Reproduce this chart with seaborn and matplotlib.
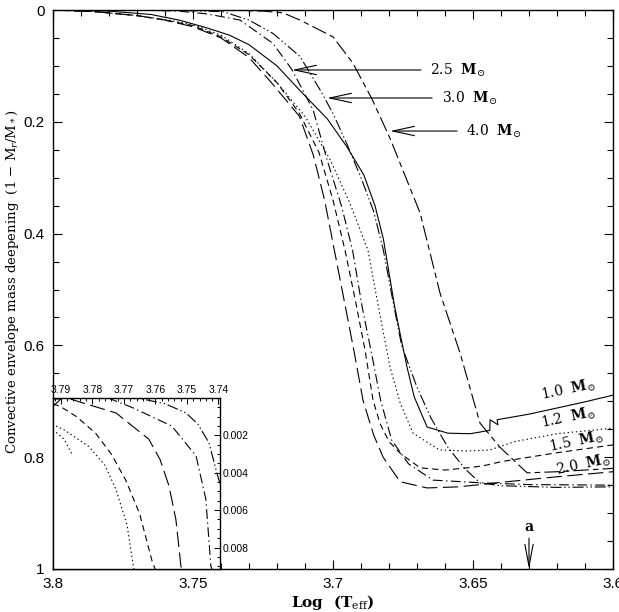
import matplotlib
matplotlib.use("Agg")
import numpy as np
import pandas as pd
import matplotlib.pyplot as plt
from matplotlib.ticker import MultipleLocator, FixedLocator, FuncFormatter
import seaborn as sns

# ---------------- data ----------------
tracks = ["1.0", "1.2", "1.5", "2.0", "2.5", "3.0", "4.0"]

x10 = [3.800, 3.780, 3.765, 3.755, 3.745, 3.737, 3.730, 3.720, 3.712, 3.702, 3.695, 3.689, 3.685,
       3.682, 3.680, 3.678, 3.676, 3.6736, 3.671, 3.6664, 3.659, 3.651, 3.644, 3.6439, 3.6411, 3.6414,
       3.630, 3.620, 3.610, 3.600]
y10 = [0.000, 0.002, 0.008, 0.018, 0.032, 0.045, 0.062, 0.100, 0.143, 0.195, 0.245, 0.295, 0.350,
       0.410, 0.470, 0.530, 0.580, 0.638, 0.692, 0.746, 0.757, 0.758, 0.752, 0.733, 0.742, 0.733,
       0.723, 0.712, 0.701, 0.689]

x12 = [3.800, 3.785, 3.770, 3.760, 3.750, 3.740, 3.730, 3.720, 3.710, 3.701, 3.694, 3.6875, 3.684,
       3.6796, 3.676, 3.6714, 3.662, 3.652, 3.644, 3.635, 3.620, 3.600]
y12 = [0.000, 0.003, 0.010, 0.017, 0.026, 0.045, 0.078, 0.130, 0.190, 0.268, 0.345, 0.430, 0.525,
       0.640, 0.703, 0.757, 0.787, 0.789, 0.787, 0.772, 0.758, 0.748]

x15 = [3.800, 3.785, 3.770, 3.760, 3.750, 3.740, 3.730, 3.720, 3.712, 3.705, 3.700, 3.6957, 3.692,
       3.6885, 3.6857, 3.6832, 3.680, 3.676, 3.6689, 3.660, 3.650, 3.645, 3.640, 3.620, 3.600]
y15 = [0.000, 0.003, 0.010, 0.018, 0.028, 0.048, 0.080, 0.130, 0.185, 0.255, 0.340, 0.430, 0.520,
       0.610, 0.698, 0.740, 0.772, 0.793, 0.819, 0.823, 0.818, 0.814, 0.808, 0.792, 0.778]

x20 = [3.800, 3.785, 3.770, 3.760, 3.750, 3.740, 3.730, 3.722, 3.712, 3.707, 3.703, 3.6995, 3.696,
       3.6925, 3.6893, 3.6855, 3.6821, 3.676, 3.6664, 3.655, 3.640, 3.620, 3.600]
y20 = [0.000, 0.003, 0.010, 0.018, 0.030, 0.050, 0.085, 0.130, 0.190, 0.260, 0.340, 0.430, 0.520,
       0.610, 0.698, 0.760, 0.800, 0.844, 0.855, 0.853, 0.845, 0.835, 0.826]

x25 = [3.800, 3.770, 3.755, 3.745, 3.7332, 3.7214, 3.7146, 3.7071, 3.702, 3.697, 3.693, 3.6896,
       3.686, 3.683, 3.679, 3.673, 3.6643, 3.6464, 3.630, 3.600]
y25 = [0.000, 0.000, 0.002, 0.007, 0.018, 0.060, 0.107, 0.179, 0.270, 0.350, 0.430, 0.531,
       0.620, 0.698, 0.770, 0.812, 0.841, 0.846, 0.849, 0.850]

x30 = [3.800, 3.760, 3.7393, 3.730, 3.7214, 3.7118, 3.7046, 3.700, 3.695, 3.690, 3.6855, 3.682,
       3.679, 3.6755, 3.670, 3.665, 3.659, 3.653, 3.6475, 3.640, 3.620, 3.600]
y30 = [0.000, 0.000, 0.003, 0.018, 0.042, 0.083, 0.143, 0.185, 0.240, 0.300, 0.360, 0.430,
       0.510, 0.600, 0.675, 0.730, 0.782, 0.820, 0.846, 0.851, 0.854, 0.853]

x40 = [3.800, 3.740, 3.725, 3.7179, 3.7118, 3.700, 3.6929, 3.6860, 3.6796, 3.6689, 3.6618, 3.6546,
       3.6475, 3.6404, 3.6307, 3.620, 3.600]
y40 = [0.000, 0.000, 0.002, 0.005, 0.018, 0.048, 0.095, 0.160, 0.230, 0.363, 0.506, 0.614,
       0.739, 0.782, 0.828, 0.826, 0.820]

# inset (zoom on the onset of deepening), y in units of 1e-3
ins_x10 = [3.7925, 3.7900, 3.7925]
ins_y10 = [0.05, 0.05, 0.45]
ins_x12 = [3.7925, 3.7916, 3.789, 3.7811, 3.776, 3.7725, 3.769, 3.7668]
ins_y12 = [1.35, 1.5, 1.7, 2.6, 3.6, 4.9, 6.8, 9.2]
ins_x12b = [3.7925, 3.789, 3.7865]
ins_y12b = [1.7, 2.2, 3.0]
ins_x15 = [3.7925, 3.7897, 3.785, 3.7789, 3.774, 3.7694, 3.765, 3.7611, 3.760]
ins_y15 = [0.3, 0.5, 1.0, 1.9, 3.0, 4.4, 6.2, 8.7, 9.2]
ins_x20 = [3.787, 3.7833, 3.7725, 3.7621, 3.7585, 3.7557, 3.7535, 3.7519, 3.7515]
ins_y20 = [0.05, 0.25, 0.8, 2.2, 3.3, 4.7, 6.5, 9.0, 9.2]
ins_x25 = [3.775, 3.7675, 3.7548, 3.7471, 3.744, 3.7424, 3.742]
ins_y25 = [0.0, 0.5, 1.5, 3.1, 5.4, 9.0, 9.2]
ins_x30 = [3.770, 3.7643, 3.757, 3.7503, 3.7465, 3.743, 3.7405, 3.7395]
ins_y30 = [0.0, 0.05, 0.3, 0.8, 1.4, 2.4, 4.0, 4.6]

x_ticks = [3.8, 3.75, 3.7, 3.65, 3.6]
y_ticks = [0, 0.2, 0.4, 0.6, 0.8, 1]
ins_x_ticks = [3.79, 3.78, 3.77, 3.76, 3.75, 3.74]
ins_y_ticks = [0.002, 0.004, 0.006, 0.008]

# ---------------- tables ----------------
main_sets = [("1.0", x10, y10), ("1.2", x12, y12), ("1.5", x15, y15), ("2.0", x20, y20),
             ("2.5", x25, y25), ("3.0", x30, y30), ("4.0", x40, y40)]
rows = []
for name, xs, ys in main_sets:
    for i, (a, b) in enumerate(zip(xs, ys)):
        rows.append({"track": name, "i": i, "logT": a, "dm": b})
df = pd.DataFrame(rows)

ins_sets = [("1.0", "1.0", ins_x10, ins_y10), ("1.2", "1.2", ins_x12, ins_y12),
            ("1.2b", "1.2", ins_x12b, ins_y12b), ("1.5", "1.5", ins_x15, ins_y15),
            ("2.0", "2.0", ins_x20, ins_y20), ("2.5", "2.5", ins_x25, ins_y25),
            ("3.0", "3.0", ins_x30, ins_y30)]
rows = []
for unit, name, xs, ys in ins_sets:
    for i, (a, b) in enumerate(zip(xs, ys)):
        rows.append({"unit": unit, "track": name, "i": i, "logT": a, "dm": b * 1e-3})
dfi = pd.DataFrame(rows)

# ---------------- style ----------------
sns.set_theme(style="ticks", rc={
    "axes.edgecolor": "black", "xtick.color": "black", "ytick.color": "black",
    "text.color": "black", "axes.labelcolor": "black", "axes.linewidth": 1.0,
})
plt.rcParams["font.family"] = ["Liberation Sans", "DejaVu Sans"]
plt.rcParams["mathtext.fontset"] = "dejavuserif"
plt.rcParams["lines.scale_dashes"] = False

dash_map = {"1.0": "", "1.2": (1.0, 2.0), "1.5": (4.5, 3.0), "2.0": (11.0, 4.0),
            "2.5": (7.0, 2.5, 1.0, 2.5), "3.0": (8.0, 2.0, 1.0, 2.0, 1.0, 2.0),
            "4.0": (11.0, 3.0, 4.0, 3.0)}

W, H = 619, 612
fig = plt.figure(figsize=(W / 100, H / 100), dpi=100)
ax = fig.add_axes([53 / W, (H - 569) / H, 560 / W, 559 / H])

sns.lineplot(data=df, x="logT", y="dm", style="track", units="track", dashes=dash_map,
             color="black", lw=0.8, sort=False, estimator=None, legend=False, ax=ax)

ax.set_xlim(3.8, 3.6)
ax.set_ylim(1, 0)
ax.xaxis.set_major_locator(FixedLocator(x_ticks))
ax.yaxis.set_major_locator(FixedLocator(y_ticks))
ax.xaxis.set_minor_locator(MultipleLocator(0.01))
ax.yaxis.set_minor_locator(MultipleLocator(0.05))
fmt = FuncFormatter(lambda v, p: f"{v:g}")
ax.xaxis.set_major_formatter(fmt)
ax.yaxis.set_major_formatter(fmt)
ax.tick_params(which="both", direction="in", top=True, right=True, width=0.8, labelsize=11)
ax.tick_params(which="major", length=6.5, pad=6)
ax.tick_params(which="minor", length=4.3)

serif = ["DejaVu Serif"]
ax.set_xlabel(r"Log  (T$_{\rm eff}$)", family=serif, fontsize=11, fontweight="bold", labelpad=1)
ax.set_ylabel(r"Convective envelope mass deepening  (1 $-$ M$_r$/M$_*$)",
              family=serif, fontsize=9.5)
ax.yaxis.set_label_coords(-0.058, 0.513)

# arrow labels for the high-mass tracks
arrow_kw = dict(arrowstyle="->,head_length=1.3,head_width=0.28", lw=0.8, color="black",
                shrinkA=0, shrinkB=0)
for lab, tip_x, tail_x, yy, tx in [("2.5", 3.7146, 3.6686, 0.1073, 3.6654),
                                   ("3.0", 3.7021, 3.6646, 0.1574, 3.6611),
                                   ("4.0", 3.6796, 3.6557, 0.2165, 3.6525)]:
    ax.annotate("", xy=(tip_x, yy), xytext=(tail_x, yy), arrowprops=arrow_kw)
    ax.text(tx, yy, lab + r"  $\mathbf{M}_{\odot}$", family=serif, fontsize=10,
            ha="left", va="center")

# rotated labels for the low-mass tracks
for lab, lx, ly in [("1.0", 3.6160, 0.680), ("1.2", 3.6160, 0.730),
                    ("1.5", 3.6130, 0.773), ("2.0", 3.6105, 0.814)]:
    ax.text(lx, ly, lab + r"  $\mathbf{M}_{\odot}$", family=serif, fontsize=10,
            ha="center", va="center", rotation=12, rotation_mode="anchor")

# marker "a"
ax.annotate("", xy=(3.63, 1.0), xytext=(3.63, 0.945),
            arrowprops=dict(arrowstyle="->,head_length=1.3,head_width=0.25", lw=0.8,
                            color="black", shrinkA=0, shrinkB=0))
ax.text(3.63, 0.925, "a", family=serif, fontsize=10, fontweight="bold", ha="center", va="center")

# ---------------- inset ----------------
axi = fig.add_axes([53 / W, (H - 569) / H, 167 / W, 171 / H])
axi.set_facecolor("white")
sns.lineplot(data=dfi, x="logT", y="dm", style="track", units="unit", dashes=dash_map,
             color="black", lw=0.8, sort=False, estimator=None, legend=False, ax=axi)
axi.set_xlim(3.7925, 3.7395)
axi.set_ylim(0.00915, 0)
axi.set_xlabel("")
axi.set_ylabel("")
axi.xaxis.tick_top()
axi.yaxis.tick_right()
axi.xaxis.set_major_locator(FixedLocator(ins_x_ticks))
axi.yaxis.set_major_locator(FixedLocator(ins_y_ticks))
axi.xaxis.set_minor_locator(MultipleLocator(0.002))
axi.yaxis.set_minor_locator(MultipleLocator(0.0005))
axi.xaxis.set_major_formatter(FuncFormatter(lambda v, p: f"{v:.2f}"))
axi.yaxis.set_major_formatter(FuncFormatter(lambda v, p: f"{v:.3f}"))
axi.tick_params(which="both", direction="in", width=0.7, labelsize=7.5, pad=2,
                top=True, right=True, bottom=False, left=False,
                labeltop=True, labelright=True, labelbottom=False, labelleft=False)
axi.tick_params(which="major", length=4.5)
axi.tick_params(which="minor", length=2.5)
for s in axi.spines.values():
    s.set_linewidth(1.0)

fig.savefig("out.png", dpi=100)
